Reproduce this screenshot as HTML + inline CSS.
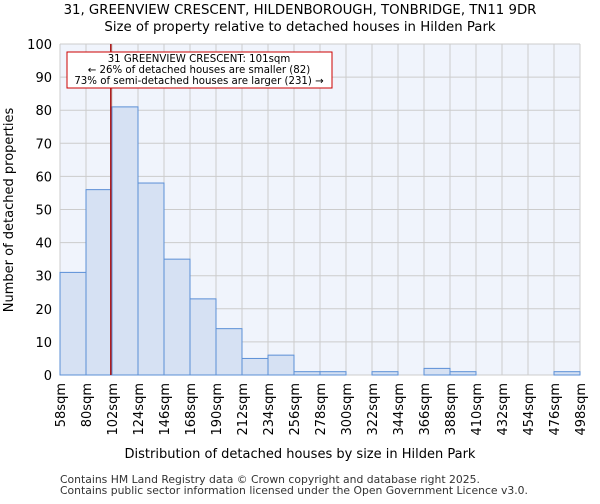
<!DOCTYPE html>
<html><head><meta charset="utf-8"><style>
body{margin:0;background:#fff;font-family:"DejaVu Sans","Liberation Sans",sans-serif;}
svg text{font-family:"DejaVu Sans","Liberation Sans",sans-serif;}
</style></head><body>
<svg id="chart" width="600" height="500">
<text x="300" y="14" text-anchor="middle" font-size="13.3">31, GREENVIEW CRESCENT, HILDENBOROUGH, TONBRIDGE, TN11 9DR</text>
<text x="300" y="31" text-anchor="middle" font-size="13.3">Size of property relative to detached houses in Hilden Park</text>
<rect x="60" y="44" width="520" height="331" fill="#f0f4fc"/>
<g id="grid"></g><g id="bars"></g><g id="axes"></g>
<text x="300" y="458" text-anchor="middle" font-size="13">Distribution of detached houses by size in Hilden Park</text>
<text transform="translate(13,210) rotate(-90)" text-anchor="middle" font-size="13">Number of detached properties</text>
<text x="60" y="483" font-size="10.8" fill="#333">Contains HM Land Registry data © Crown copyright and database right 2025.</text>
<text x="60" y="494" font-size="10.8" fill="#333">Contains public sector information licensed under the Open Government Licence v3.0.</text>
</svg>
<script>
const binStarts=[58,80,102,124,146,168,190,212,234,256,278,300,322,344,366,388,410,432,454,476];
const counts=[31,56,81,58,35,23,14,5,6,1,1,0,1,0,2,1,0,0,0,1];
const xTicks=[58,80,102,124,146,168,190,212,234,256,278,300,322,344,366,388,410,432,454,476,498];
const yTicks=[0,10,20,30,40,50,60,70,80,90,100];
const subjectSize=101;
const binWidth=22;
const NS="http://www.w3.org/2000/svg";
const X0=60,X1=580,Y0=375,Y1=44;
const xs=v=>X0+(v-58)/(498-58)*(X1-X0);
const ys=v=>Y0-v/100*(Y0-Y1);
function mk(tag,attrs,parent){const e=document.createElementNS(NS,tag);for(const k in attrs)e.setAttribute(k,attrs[k]);parent.appendChild(e);return e;}
const grid=document.getElementById('grid'),bars=document.getElementById('bars'),axes=document.getElementById('axes');
yTicks.forEach(v=>{
  const l=mk('line',{x1:X0,x2:X1,y1:ys(v),y2:ys(v),stroke:'#cccccc','stroke-width':1},grid);
  
  
  const t=mk('text',{x:X0-8,y:ys(v)+5,'text-anchor':'end','font-size':13},axes);
  t.textContent=v;
  
  
});
xTicks.forEach(v=>{
  const l=mk('line',{x1:xs(v),x2:xs(v),y1:Y1,y2:Y0,stroke:'#cccccc','stroke-width':1},grid);
  
  
  const t=mk('text',{transform:`translate(${xs(v)+5},${Y0+8}) rotate(-90)`,'text-anchor':'end','font-size':13},axes);
  t.textContent=v+'sqm';
  
  
});
counts.forEach((c,i)=>{
  if(c<=0)return;
  const x=xs(binStarts[i]),w=xs(binStarts[i]+binWidth)-x;
  const r=mk('rect',{x:x,y:ys(c),width:w,height:Y0-ys(c),fill:'#d6e1f3',stroke:'#5b8fd6','stroke-width':1},bars);
  
  
});
const sl=mk('line',{x1:xs(subjectSize),x2:xs(subjectSize),y1:Y1,y2:Y0,stroke:'#aa1111','stroke-width':1.5},axes);


const ab=mk('rect',{x:67,y:52,width:265,height:36,fill:'#fff',stroke:'#cc0000','stroke-width':1},axes);


['31 GREENVIEW CRESCENT: 101sqm','← 26% of detached houses are smaller (82)','73% of semi-detached houses are larger (231) →'].forEach((s,i)=>{
  const t=mk('text',{x:199,y:62+i*11,'text-anchor':'middle','font-size':10.2},axes);
  t.textContent=s;
  
  
});
</script>
</body></html>
